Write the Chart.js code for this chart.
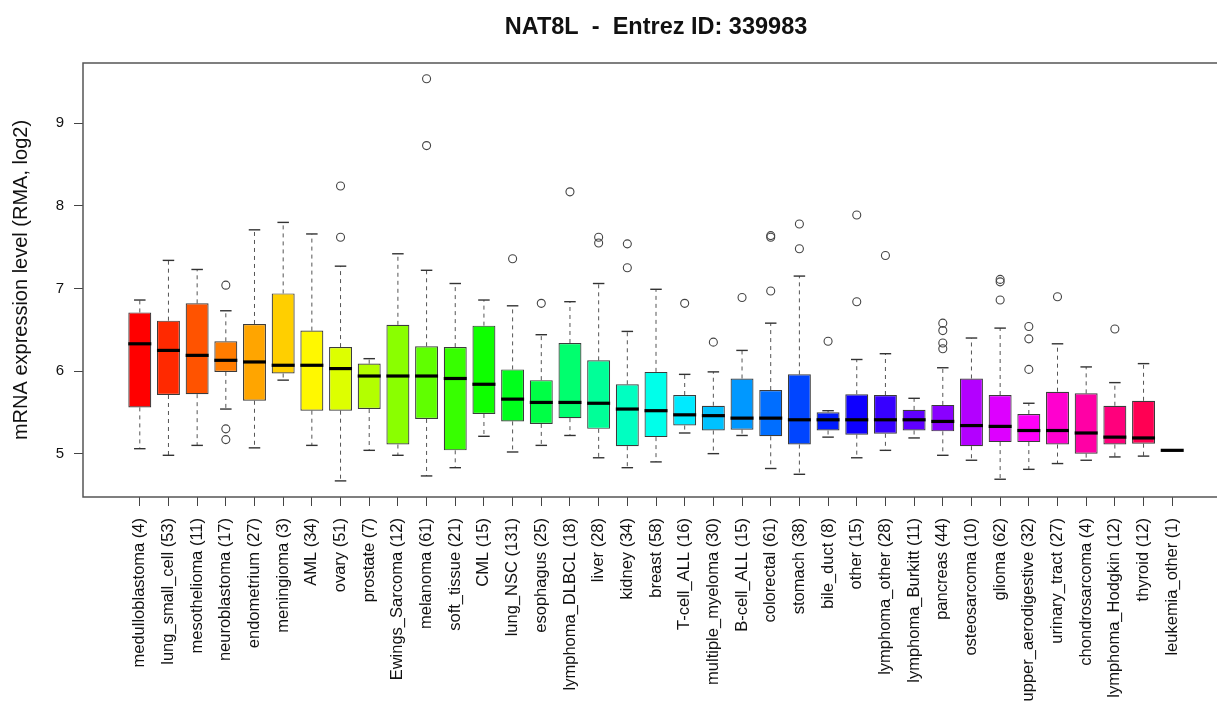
<!DOCTYPE html>
<html>
<head>
<meta charset="utf-8">
<title>NAT8L expression by tumour type</title>
<script src="https://cdn.jsdelivr.net/npm/chart.js@4.4.1/dist/chart.umd.min.js"></script>
<style>
  html, body { margin: 0; padding: 0; background: #ffffff; overflow: hidden; }
  #wrap { width: 1260px; height: 703px; }
</style>
</head>
<body>
<div id="wrap"><canvas id="chart" width="1260" height="703"></canvas></div>
<script>
// Tumour types (sample counts in brackets)
const categories = [
  'medulloblastoma (4)', 'lung_small_cell (53)', 'mesothelioma (11)', 'neuroblastoma (17)',
  'endometrium (27)', 'meningioma (3)', 'AML (34)', 'ovary (51)', 'prostate (7)',
  'Ewings_Sarcoma (12)', 'melanoma (61)', 'soft_tissue (21)', 'CML (15)', 'lung_NSC (131)',
  'esophagus (25)', 'lymphoma_DLBCL (18)', 'liver (28)', 'kidney (34)', 'breast (58)',
  'T-cell_ALL (16)', 'multiple_myeloma (30)', 'B-cell_ALL (15)', 'colorectal (61)',
  'stomach (38)', 'bile_duct (8)', 'other (15)', 'lymphoma_other (28)', 'lymphoma_Burkitt (11)',
  'pancreas (44)', 'osteosarcoma (10)', 'glioma (62)', 'upper_aerodigestive (32)',
  'urinary_tract (27)', 'chondrosarcoma (4)', 'lymphoma_Hodgkin (12)', 'thyroid (12)',
  'leukemia_other (1)'
];

// Five-number summaries (log2 RMA expression)
const lowerWhisker = [5.06, 4.98, 5.10, 5.54, 5.07, 5.89, 5.10, 4.67, 5.04, 4.98, 4.73, 4.83, 5.21,
  5.02, 5.10, 5.22, 4.95, 4.83, 4.90, 5.25, 5.00, 5.22, 4.82, 4.75, 5.20, 4.95, 5.04, 5.19,
  4.98, 4.92, 4.69, 4.81, 4.88, 4.92, 4.96, 4.97, 5.04];
const q1 = [5.56, 5.71, 5.72, 5.99, 5.64, 5.97, 5.52, 5.52, 5.54, 5.11, 5.42, 5.04, 5.48,
  5.39, 5.36, 5.43, 5.30, 5.09, 5.20, 5.34, 5.28, 5.29, 5.21, 5.11, 5.28, 5.23, 5.24, 5.28,
  5.27, 5.09, 5.14, 5.14, 5.11, 5.00, 5.11, 5.12, 5.04];
const median = [6.33, 6.25, 6.19, 6.13, 6.11, 6.07, 6.07, 6.03, 5.94, 5.94, 5.94, 5.91, 5.84,
  5.66, 5.62, 5.62, 5.61, 5.54, 5.52, 5.47, 5.46, 5.43, 5.43, 5.41, 5.41, 5.41, 5.41, 5.41,
  5.39, 5.34, 5.33, 5.28, 5.28, 5.25, 5.20, 5.19, 5.04];
const q3 = [6.71, 6.61, 6.82, 6.36, 6.57, 6.94, 6.49, 6.29, 6.09, 6.56, 6.30, 6.29, 6.55,
  6.02, 5.89, 6.34, 6.13, 5.84, 5.99, 5.71, 5.58, 5.91, 5.77, 5.96, 5.50, 5.72, 5.71, 5.53,
  5.59, 5.91, 5.71, 5.48, 5.75, 5.73, 5.58, 5.64, 5.04];
const upperWhisker = [6.86, 7.34, 7.23, 6.73, 7.71, 7.80, 7.66, 7.27, 6.15, 7.42, 7.22, 7.06, 6.86,
  6.79, 6.44, 6.84, 7.06, 6.48, 6.99, 5.96, 5.99, 6.25, 6.58, 7.15, 5.52, 6.14, 6.21, 5.67,
  6.04, 6.40, 6.52, 5.61, 6.33, 6.05, 5.86, 6.09, 5.04];
const outliers = [
  [], [], [], [7.04, 5.30, 5.17], [], [], [], [8.24, 7.62], [], [], [9.54, 8.73], [], [],
  [7.36], [6.82], [8.17], [7.62, 7.55], [7.54, 7.25], [], [6.82], [6.35], [6.89],
  [7.64, 7.62, 6.97], [7.78, 7.48], [6.36], [7.89, 6.84], [7.40], [],
  [6.58, 6.49, 6.34, 6.27], [], [7.11, 7.08, 6.86], [6.54, 6.39, 6.02], [6.90], [], [6.51], [], []
];

const yTicks = [5, 6, 7, 8, 9];
const titleText = 'NAT8L  -  Entrez ID: 339983';
const yTitle = 'mRNA expression level (RMA, log2)';

// Hue wheel from red round to pink, one colour per tumour type
function rainbow(n) {
  const out = [];
  for (let i = 0; i < n; i++) {
    const h6 = (i / n) * 6;
    const k = Math.floor(h6);
    const f = h6 - k;
    const q = 1 - f;
    const rgb = [[1, f, 0], [q, 1, 0], [0, 1, f], [0, q, 1], [f, 0, 1], [1, 0, q]][k % 6];
    out.push('rgb(' + rgb.map(c => Math.round(c * 255)).join(',') + ')');
  }
  return out;
}
const boxColours = rainbow(categories.length);

const pos = i => i + 1;

const boxData = categories.map((_, i) => ({ x: pos(i), y: [q1[i], q3[i]] }));
const medianData = categories.map((_, i) => ({ x: pos(i), y: median[i] }));
const whiskerData = [];
categories.forEach((_, i) => {
  whiskerData.push({ x: pos(i), y: q3[i] }, { x: pos(i), y: upperWhisker[i] }, { x: pos(i), y: null });
  whiskerData.push({ x: pos(i), y: q1[i] }, { x: pos(i), y: lowerWhisker[i] }, { x: pos(i), y: null });
});
const capData = [];
categories.forEach((_, i) => {
  capData.push({ x: pos(i), y: upperWhisker[i] }, { x: pos(i), y: lowerWhisker[i] });
});
const outlierData = [];
outliers.forEach((list, i) => list.forEach(v => outlierData.push({ x: pos(i), y: v })));

const FONT = "'Liberation Sans', Arial, Helvetica, sans-serif";

// Plot frame drawn round the whole plotting region
const framePlugin = {
  id: 'frame',
  afterDatasetsDraw(chart) {
    const { ctx, chartArea: a } = chart;
    ctx.save();
    ctx.strokeStyle = '#555';
    ctx.lineWidth = 1.5;
    ctx.strokeRect(a.left, a.top, a.right - a.left, a.bottom - a.top);
    ctx.restore();
  }
};

new Chart(document.getElementById('chart'), {
  type: 'bar',
  data: {
    datasets: [
      {
        type: 'line',
        data: whiskerData,
        borderColor: '#555',
        borderWidth: 1,
        borderDash: [4, 4],
        pointRadius: 0,
        spanGaps: false,
        tension: 0,
        order: 5
      },
      {
        type: 'bar',
        data: boxData,
        backgroundColor: boxColours,
        borderColor: 'rgba(25,25,25,0.85)',
        borderWidth: 1.2,
        borderSkipped: false,
        categoryPercentage: 1,
        barPercentage: 0.8,
        order: 4
      },
      {
        type: 'scatter',
        data: capData,
        pointStyle: 'line',
        pointRadius: 5.75,
        borderColor: '#333',
        borderWidth: 1.4,
        order: 3
      },
      {
        type: 'scatter',
        data: medianData,
        pointStyle: 'line',
        pointRadius: 11.5,
        borderColor: '#000',
        borderWidth: 3.2,
        order: 2
      },
      {
        type: 'scatter',
        data: outlierData,
        pointStyle: 'circle',
        pointRadius: 4,
        borderColor: '#444',
        borderWidth: 1.1,
        backgroundColor: 'rgba(0,0,0,0)',
        order: 1
      }
    ]
  },
  options: {
    responsive: false,
    devicePixelRatio: 1,
    animation: false,
    events: [],
    layout: { padding: { left: 0, right: 31, top: 0, bottom: 0 } },
    plugins: {
      legend: { display: false },
      tooltip: { enabled: false },
      title: {
        display: true,
        text: titleText,
        fullSize: false,
        color: '#111',
        font: { family: FONT, size: 23.5, weight: 'bold' },
        padding: { top: 13, bottom: 21.8 }
      }
    },
    scales: {
      x: {
        type: 'linear',
        min: -0.98,
        max: 38.98,
        offset: false,
        afterBuildTicks: s => { s.ticks = categories.map((_, i) => ({ value: pos(i) })); },
        afterFit: s => { s.height = 206; },
        ticks: {
          autoSkip: false,
          minRotation: 90,
          maxRotation: 90,
          padding: 12,
          color: '#111',
          font: { family: FONT, size: 16.5 },
          callback: v => categories[Math.round(v) - 1]
        },
        grid: { drawOnChartArea: false, drawTicks: true, tickLength: 9, tickColor: '#444', offset: false },
        border: { display: false }
      },
      y: {
        type: 'linear',
        min: 4.475,
        max: 9.73,
        afterBuildTicks: s => { s.ticks = yTicks.map(v => ({ value: v })); },
        afterFit: s => { s.width = 83; },
        ticks: {
          padding: 10,
          color: '#111',
          font: { family: FONT, size: 15 }
        },
        grid: { drawOnChartArea: false, drawTicks: true, tickLength: 9, tickColor: '#444' },
        border: { display: false },
        title: {
          display: true,
          text: yTitle,
          color: '#111',
          font: { family: FONT, size: 20 },
          padding: { top: 9, bottom: 0 }
        }
      }
    }
  },
  plugins: [framePlugin]
});
</script>
</body>
</html>
